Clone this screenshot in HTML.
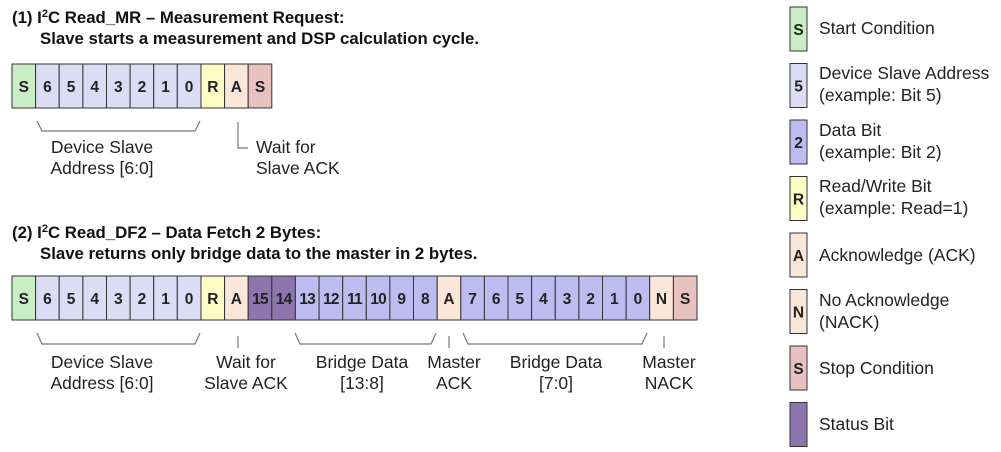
<!DOCTYPE html>
<html><head><meta charset="utf-8"><style>
html,body{margin:0;padding:0;background:#fff;}
svg{display:block;font-family:"Liberation Sans",Arial,sans-serif;}
.c text{font-weight:bold;font-size:15.5px;text-anchor:middle;fill:#222;}
.l{font-size:17.5px;fill:#222;}
.lc{font-size:17.5px;fill:#222;text-anchor:middle;}
.h{font-size:16.8px;font-weight:bold;fill:#111;}
.br{fill:none;stroke:#777;stroke-width:1.2;}
</style></head><body>
<svg width="1001" height="452" viewBox="0 0 1001 452" xmlns="http://www.w3.org/2000/svg">
<text class="h" x="12" y="23">(1) I<tspan dy="-6" font-size="11">2</tspan><tspan dy="6">C Read_MR – Measurement Request:</tspan></text>
<text class="h" x="40" y="44">Slave starts a measurement and DSP calculation cycle.</text>
<text class="h" x="12" y="238">(2) I<tspan dy="-6" font-size="11">2</tspan><tspan dy="6">C Read_DF2 – Data Fetch 2 Bytes:</tspan></text>
<text class="h" x="40" y="259">Slave returns only bridge data to the master in 2 bytes.</text>

<g stroke="#333" stroke-width="1">
<rect x="12" y="64" width="23.6" height="44" fill="#c9eec6"/>
<rect x="35.6" y="64" width="23.6" height="44" fill="#dcdcf4"/>
<rect x="59.2" y="64" width="23.7" height="44" fill="#dcdcf4"/>
<rect x="82.9" y="64" width="23.6" height="44" fill="#dcdcf4"/>
<rect x="106.5" y="64" width="23.6" height="44" fill="#dcdcf4"/>
<rect x="130.1" y="64" width="23.6" height="44" fill="#dcdcf4"/>
<rect x="153.7" y="64" width="23.6" height="44" fill="#dcdcf4"/>
<rect x="177.3" y="64" width="23.7" height="44" fill="#dcdcf4"/>
<rect x="201" y="64" width="23.6" height="44" fill="#fcfcc4"/>
<rect x="224.6" y="64" width="23.6" height="44" fill="#fbe6da"/>
<rect x="248.2" y="64" width="23.6" height="44" fill="#e8c2c0"/>
</g>
<g class="c">
<text x="23.8" y="92">S</text><text x="47.4" y="92">6</text><text x="71" y="92">5</text><text x="94.7" y="92">4</text><text x="118.3" y="92">3</text><text x="141.9" y="92">2</text><text x="165.5" y="92">1</text><text x="189.1" y="92">0</text><text x="212.8" y="92">R</text><text x="236.4" y="92">A</text><text x="260" y="92">S</text>
</g>
<path class="br" d="M37 121 L42 131 L195 131 L200 121"/>
<path class="br" d="M238 122 L238 148 L248 148"/>
<text class="lc" x="102" y="153">Device Slave</text>
<text class="lc" x="102" y="174">Address [6:0]</text>
<text class="l" x="256" y="153">Wait for</text>
<text class="l" x="256" y="174">Slave ACK</text>

<g stroke="#333" stroke-width="1">
<rect x="12" y="276" width="23.6" height="44" fill="#c9eec6"/>
<rect x="35.6" y="276" width="23.6" height="44" fill="#dcdcf4"/>
<rect x="59.2" y="276" width="23.7" height="44" fill="#dcdcf4"/>
<rect x="82.9" y="276" width="23.6" height="44" fill="#dcdcf4"/>
<rect x="106.5" y="276" width="23.6" height="44" fill="#dcdcf4"/>
<rect x="130.1" y="276" width="23.6" height="44" fill="#dcdcf4"/>
<rect x="153.7" y="276" width="23.6" height="44" fill="#dcdcf4"/>
<rect x="177.3" y="276" width="23.7" height="44" fill="#dcdcf4"/>
<rect x="201" y="276" width="23.6" height="44" fill="#fcfcc4"/>
<rect x="224.6" y="276" width="23.6" height="44" fill="#fbe6da"/>
<rect x="248.2" y="276" width="23.6" height="44" fill="#8c76ad"/>
<rect x="271.8" y="276" width="23.6" height="44" fill="#8c76ad"/>
<rect x="295.4" y="276" width="23.7" height="44" fill="#bcbcf0"/>
<rect x="319.1" y="276" width="23.6" height="44" fill="#bcbcf0"/>
<rect x="342.7" y="276" width="23.6" height="44" fill="#bcbcf0"/>
<rect x="366.3" y="276" width="23.6" height="44" fill="#bcbcf0"/>
<rect x="389.9" y="276" width="23.6" height="44" fill="#bcbcf0"/>
<rect x="413.5" y="276" width="23.7" height="44" fill="#bcbcf0"/>
<rect x="437.2" y="276" width="23.6" height="44" fill="#fbe6da"/>
<rect x="460.8" y="276" width="23.6" height="44" fill="#bcbcf0"/>
<rect x="484.4" y="276" width="23.6" height="44" fill="#bcbcf0"/>
<rect x="508" y="276" width="23.6" height="44" fill="#bcbcf0"/>
<rect x="531.6" y="276" width="23.7" height="44" fill="#bcbcf0"/>
<rect x="555.3" y="276" width="23.6" height="44" fill="#bcbcf0"/>
<rect x="578.9" y="276" width="23.6" height="44" fill="#bcbcf0"/>
<rect x="602.5" y="276" width="23.6" height="44" fill="#bcbcf0"/>
<rect x="626.1" y="276" width="23.6" height="44" fill="#bcbcf0"/>
<rect x="649.7" y="276" width="23.7" height="44" fill="#fbe6da"/>
<rect x="673.4" y="276" width="23.6" height="44" fill="#e8c2c0"/>
</g>
<g class="c">
<text x="23.8" y="304">S</text><text x="47.4" y="304">6</text><text x="71" y="304">5</text><text x="94.7" y="304">4</text><text x="118.3" y="304">3</text><text x="141.9" y="304">2</text><text x="165.5" y="304">1</text><text x="189.1" y="304">0</text><text x="212.8" y="304">R</text><text x="236.4" y="304">A</text>
<text x="260" y="304" letter-spacing="-0.8">15</text><text x="283.6" y="304" letter-spacing="-0.8">14</text><text x="307.2" y="304" letter-spacing="-0.8">13</text><text x="330.9" y="304" letter-spacing="-0.8">12</text><text x="354.5" y="304" letter-spacing="-0.8">11</text><text x="378.1" y="304" letter-spacing="-0.8">10</text><text x="401.7" y="304">9</text><text x="425.3" y="304">8</text><text x="449" y="304">A</text>
<text x="472.6" y="304">7</text><text x="496.2" y="304">6</text><text x="519.8" y="304">5</text><text x="543.4" y="304">4</text><text x="567.1" y="304">3</text><text x="590.7" y="304">2</text><text x="614.3" y="304">1</text><text x="637.9" y="304">0</text><text x="661.5" y="304">N</text><text x="685.2" y="304">S</text>
</g>
<path class="br" d="M37 333 L42 344 L195 344 L200 333"/>
<path class="br" d="M238 336 L238 348"/>
<path class="br" d="M295 333 L300 344 L431 344 L436 333"/>
<path class="br" d="M449 336 L449 348"/>
<path class="br" d="M463 333 L468 344 L642 344 L647 333"/>
<path class="br" d="M664 336 L664 348"/>
<text class="lc" x="102" y="368">Device Slave</text>
<text class="lc" x="102" y="389">Address [6:0]</text>
<text class="lc" x="246" y="368">Wait for</text>
<text class="lc" x="246" y="389">Slave ACK</text>
<text class="lc" x="362" y="368">Bridge Data</text>
<text class="lc" x="362" y="389">[13:8]</text>
<text class="lc" x="454" y="368">Master</text>
<text class="lc" x="454" y="389">ACK</text>
<text class="lc" x="556" y="368">Bridge Data</text>
<text class="lc" x="556" y="389">[7:0]</text>
<text class="lc" x="669" y="368">Master</text>
<text class="lc" x="669" y="389">NACK</text>

<g stroke="#333" stroke-width="1">
<rect x="790" y="7" width="17" height="44" fill="#c9eec6"/>
<rect x="790" y="63.5" width="17" height="44" fill="#dcdcf4"/>
<rect x="790" y="120" width="17" height="44" fill="#bcbcf0"/>
<rect x="790" y="176.5" width="17" height="44" fill="#fcfcc4"/>
<rect x="790" y="233" width="17" height="44" fill="#fbe6da"/>
<rect x="790" y="289.5" width="17" height="44" fill="#fbe6da"/>
<rect x="790" y="346" width="17" height="44" fill="#e8c2c0"/>
<rect x="790" y="402.5" width="17" height="44" fill="#8c76ad"/>
</g>
<g class="c">
<text x="798.5" y="35">S</text><text x="798.5" y="91.5">5</text><text x="798.5" y="148">2</text><text x="798.5" y="204.5">R</text><text x="798.5" y="261">A</text><text x="798.5" y="317.5">N</text><text x="798.5" y="374">S</text>
</g>
<text class="l" x="819" y="34">Start Condition</text>
<text class="l" x="819" y="79">Device Slave Address</text>
<text class="l" x="819" y="101">(example: Bit 5)</text>
<text class="l" x="819" y="136">Data Bit</text>
<text class="l" x="819" y="158">(example: Bit 2)</text>
<text class="l" x="819" y="192">Read/Write Bit</text>
<text class="l" x="819" y="214">(example: Read=1)</text>
<text class="l" x="819" y="261">Acknowledge (ACK)</text>
<text class="l" x="819" y="306">No Acknowledge</text>
<text class="l" x="819" y="328">(NACK)</text>
<text class="l" x="819" y="374">Stop Condition</text>
<text class="l" x="819" y="430">Status Bit</text>
</svg>
</body></html>
